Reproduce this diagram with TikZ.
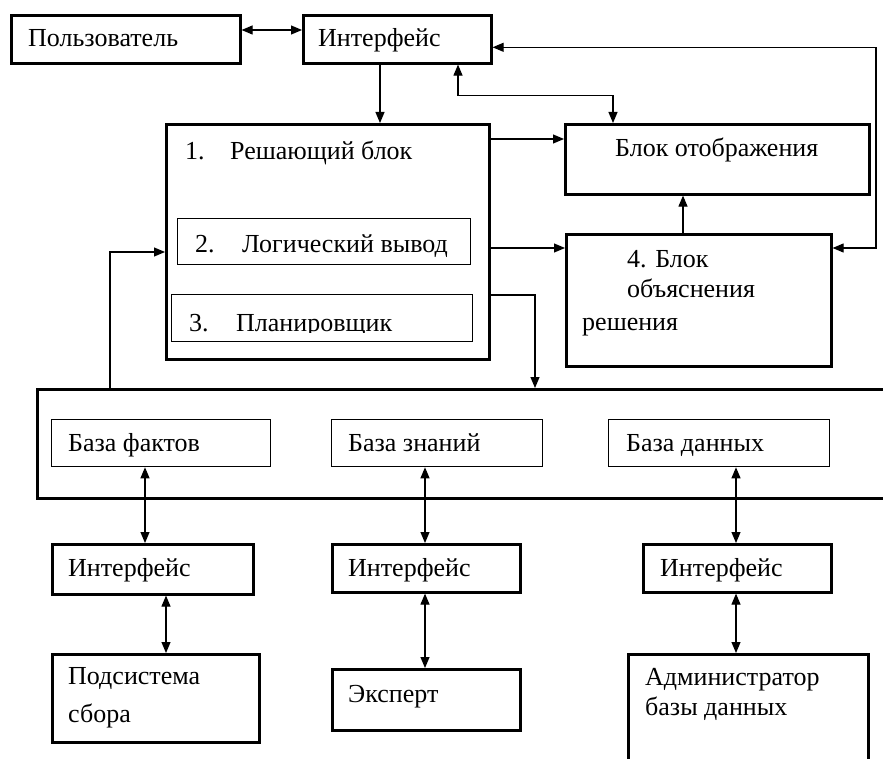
\documentclass[tikz,border=0pt]{standalone}
\usepackage{fontspec}
\setmainfont{Liberation Serif}
\usetikzlibrary{arrows.meta,calc}
\tikzset{
  thickbox/.style={draw, line width=2.6pt, inner sep=0pt, anchor=north west},
  thinbox/.style={draw, line width=1.3pt, inner sep=0pt, anchor=north west},
  lbl/.style={anchor=base west, inner sep=0pt, font=\fontsize{26}{30}\selectfont},
  tip/.tip={Triangle[length=11pt,width=9pt]},
  arr/.style={line width=1.1pt, -tip},
  dbl/.style={line width=1.1pt, tip-tip},
}
\begin{document}
\begin{tikzpicture}[x=1pt,y=-1pt]
\clip (0,0) rectangle (883,759);
\fill[white] (0,0) rectangle (883,759);
% boxes
\node[thickbox, minimum width=229pt, minimum height=48pt] (polz) at (10,14) {};
\node[thickbox, minimum width=188pt, minimum height=48pt] (intf) at (302,14) {};
\node[thickbox, minimum width=323pt, minimum height=235pt] (solve) at (165,123) {};
\node[thinbox, minimum width=293pt, minimum height=46pt] (logic) at (177,218) {};
\node[thinbox, minimum width=301pt, minimum height=47pt] (plan) at (171,294) {};
\node[thickbox, minimum width=304pt, minimum height=70pt] (disp) at (564,123) {};
\node[thickbox, minimum width=265pt, minimum height=132pt] (expl) at (565,233) {};
\node[thickbox, minimum width=900pt, minimum height=109pt] (big) at (36,388) {};
\node[thinbox, minimum width=219pt, minimum height=47pt] (bf) at (51,419) {};
\node[thinbox, minimum width=211pt, minimum height=47pt] (bz) at (331,419) {};
\node[thinbox, minimum width=221pt, minimum height=47pt] (bd) at (608,419) {};
\node[thickbox, minimum width=201pt, minimum height=50pt] (i1) at (51,543) {};
\node[thickbox, minimum width=188pt, minimum height=48pt] (i2) at (331,543) {};
\node[thickbox, minimum width=188pt, minimum height=48pt] (i3) at (642,543) {};
\node[thickbox, minimum width=207pt, minimum height=88pt] (sub) at (51,653) {};
\node[thickbox, minimum width=188pt, minimum height=61pt] (exp) at (331,668) {};
\node[thickbox, minimum width=240pt, minimum height=130pt] (adm) at (627,653) {};
% labels
\node[lbl] (tpolz) at (28,47) {Пользователь};
\node[lbl] (tintf) at (318,47) {Интерфейс};
\node[lbl] (tn1) at (185,160) {1.};
\node[lbl] (tsolve) at (230,160) {Решающий блок};
\node[lbl] (tn2) at (195,253) {2.};
\node[lbl] (tlogic) at (242,253) {Логический вывод};
\begin{scope}
\clip (150,280) rectangle (480,332);
\node[lbl] (tn3) at (189,331) {3.};
\node[lbl] (tplan) at (236,331) {Планировщик};
\end{scope}
\node[lbl] (tdisp) at (615,157) {Блок отображения};
\node[lbl] (te1) at (627,268) {4. Блок};
\node[lbl] (te2) at (627,298) {объяснения};
\node[lbl] (te3) at (582,330) {решения};
\node[lbl] (tbf) at (68,451) {База фактов};
\node[lbl] (tbz) at (348,451) {База знаний};
\node[lbl] (tbd) at (626,451) {База данных};
\node[lbl] (ti1) at (68,576) {Интерфейс};
\node[lbl] (ti2) at (348,576) {Интерфейс};
\node[lbl] (ti3) at (660,576) {Интерфейс};
\node[lbl] (tsub1) at (68,684) {Подсистема};
\node[lbl] (tsub2) at (68,722) {сбора};
\node[lbl] (texp) at (348,702) {Эксперт};
\node[lbl] (tadm1) at (645,685) {Администратор};
\node[lbl] (tadm2) at (645,715) {базы данных};
% connectors
\coordinate (pa) at ($(polz.north east)+(0,16)$);
\draw[dbl] (pa) -- (pa -| intf.west);
\coordinate (ia) at ($(intf.south west)+(78,0)$);
\draw[arr] (ia) -- (ia |- solve.north);
\coordinate (ib) at ($(intf.south west)+(156,0)$);
\coordinate (db) at ($(disp.north west)+(49,0)$);
\draw[dbl] (ib) -- ($(ib)+(0,31)$) -| (db);
\coordinate (ea) at ($(expl.north east)+(0,15)$);
\coordinate (ic) at ($(intf.east)+(0,8)$);
\draw[dbl] (ea) -- (876,248) |- (ic);
\coordinate (sa) at ($(solve.north east)+(0,16)$);
\draw[arr] (sa) -- (sa -| disp.west);
\coordinate (sb) at ($(solve.north east)+(0,125)$);
\draw[arr] (sb) -- (sb -| expl.west);
\coordinate (ec) at ($(expl.north west)+(118,0)$);
\draw[arr] (ec) -- (ec |- disp.south);
\coordinate (sc) at ($(solve.north east)+(0,172)$);
\draw[arr] (sc) -| ($(big.north west)+(499,0)$);
\coordinate (ba) at ($(big.north west)+(74,2)$);
\draw[arr] (ba) |- ($(solve.north west)+(0,129)$);
\draw[dbl] ($(bf.south west)+(94,0)$) -- ($(i1.north west)+(94,0)$);
\draw[dbl] ($(i1.south west)+(115,0)$) -- ($(sub.north west)+(115,0)$);
\draw[dbl] ($(bz.south west)+(94,0)$) -- ($(i2.north west)+(94,0)$);
\draw[dbl] ($(i2.south west)+(94,0)$) -- ($(exp.north west)+(94,0)$);
\draw[dbl] ($(bd.south west)+(128,0)$) -- ($(i3.north west)+(94,0)$);
\draw[dbl] ($(i3.south west)+(94,0)$) -- ($(adm.north west)+(109,0)$);
\end{tikzpicture}
\end{document}
